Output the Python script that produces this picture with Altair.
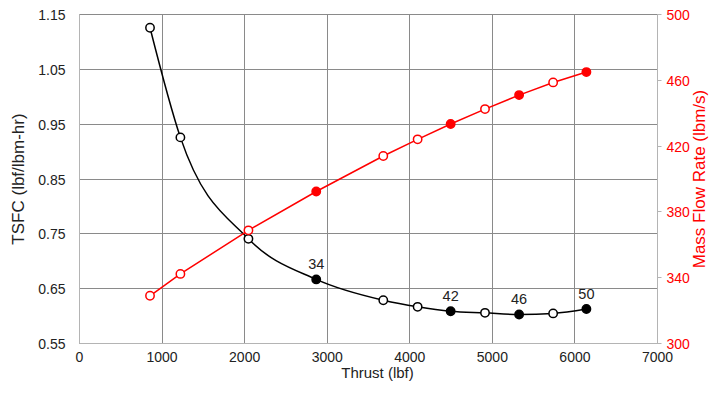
import altair as alt
import pandas as pd

thrust = [860, 1228, 2052, 2873, 3685, 4101, 4501, 4917, 5330, 5742, 6145]
tsfc = [1.125, 0.925, 0.740, 0.666, 0.628, 0.616, 0.608, 0.605, 0.602, 0.604, 0.612]
mdot = [328.7, 342.0, 368.5, 392.1, 413.7, 423.8, 433.1, 442.2, 450.7, 458.4, 464.7]
state = ["open", "open", "open", "filled", "open", "open", "filled", "open", "filled", "open", "filled"]
labels = ["", "", "", "34", "", "", "42", "", "46", "", "50"]

df = pd.DataFrame({"thrust": thrust, "tsfc": tsfc, "mdot": mdot, "state": state, "label": labels})

FONT = "Liberation Sans"
LFS = 14
TFS = 15
YTFS = 17
GRID = "#8a8a8a"
DOMAIN = "#b4b4b4"

x_enc = alt.X("thrust:Q", title="Thrust (lbf)",
              scale=alt.Scale(domain=[0, 7000], nice=False, zero=False),
              axis=alt.Axis(values=list(range(0, 7001, 1000)), grid=True, gridColor=GRID,
                            ticks=False, labelPadding=7, titlePadding=1, domainColor=DOMAIN,
                            labelFlush=False, labelOverlap=False, titleX=298, titleFontSize=TFS,
                            labelColor="#222", titleColor="#222", format="d"))

y_left = alt.Y("tsfc:Q", title="TSFC (lbf/lbm-hr)",
               scale=alt.Scale(domain=[0.55, 1.15], nice=False, zero=False),
               axis=alt.Axis(values=[0.55, 0.65, 0.75, 0.85, 0.95, 1.05, 1.15], format=".2f",
                             grid=True, gridColor=GRID, ticks=False, labelPadding=14,
                             titlePadding=10, titleFontSize=YTFS,
                             domainColor=DOMAIN, labelFlush=False, labelOffset=1.5,
                             labelColor="#222", titleColor="#222"))

y_right = alt.Y("mdot:Q", title="Mass Flow Rate (lbm/s)",
                scale=alt.Scale(domain=[300, 500], nice=False, zero=False),
                axis=alt.Axis(orient="right", values=[300, 340, 380, 420, 460, 500], grid=False,
                              ticks=True, tickSize=4, tickColor=DOMAIN, labelPadding=5,
                              titlePadding=2, titleAngle=270, titleBaseline="top", titleFontSize=YTFS,
                              domainColor=DOMAIN, labelFlush=False, labelOffset=1.5,
                              labelColor="red", titleColor="red"))

base = alt.Chart(df)

black_line = base.mark_line(color="black", strokeWidth=1.5, interpolate="monotone").encode(x=x_enc, y=y_left)
black_pts = base.mark_point(shape="circle", size=70, strokeWidth=1.5, color="black", opacity=1, filled=False).encode(
    x="thrust:Q", y="tsfc:Q",
    fill=alt.Fill("state:N", scale=alt.Scale(domain=["open", "filled"], range=["white", "black"]), legend=None))
black_txt = base.mark_text(baseline="bottom", dy=-7, fontSize=14.5, font=FONT, color="#222").encode(
    x="thrust:Q", y="tsfc:Q", text="label:N")

left = alt.layer(black_line, black_pts, black_txt)

red_line = base.mark_line(color="red", strokeWidth=1.5).encode(x="thrust:Q", y=y_right)
red_pts = base.mark_point(shape="circle", size=70, strokeWidth=1.5, color="red", opacity=1, filled=False).encode(
    x="thrust:Q", y="mdot:Q",
    fill=alt.Fill("state:N", scale=alt.Scale(domain=["open", "filled"], range=["white", "red"]), legend=None))
right = alt.layer(red_line, red_pts)

chart = alt.layer(left, right).resolve_scale(y="independent", fill="independent").properties(
    width=578, height=329,
    autosize=alt.AutoSizeParams(type="none"),
    padding={"left": 71, "top": 6, "right": 52, "bottom": 40},
).configure_view(stroke=None).configure_axis(
    labelFont=FONT, titleFont=FONT, labelFontSize=LFS, titleFontWeight="normal"
)

chart.save("out.html", embed_options={"renderer": "svg", "actions": False})
